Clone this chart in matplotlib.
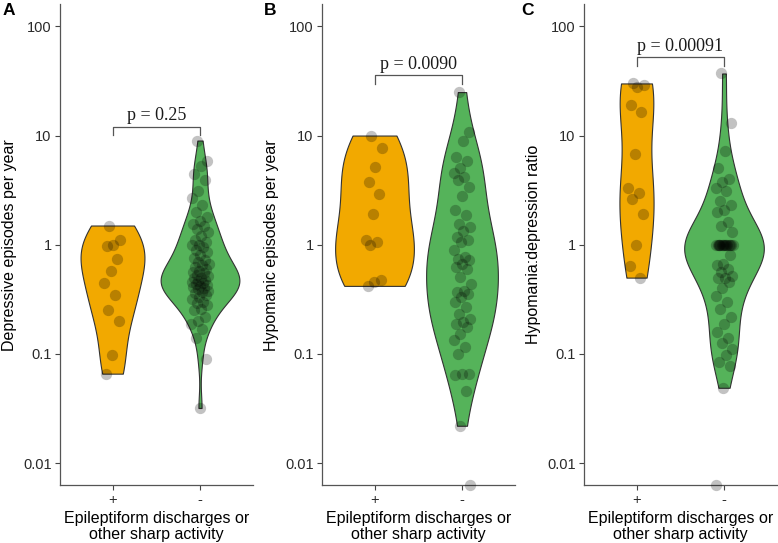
import numpy as np
import matplotlib
matplotlib.use("Agg")
import matplotlib.pyplot as plt

# data (0 = zero value, drawn at the bottom edge)
groups = ["+", "-"]

dep_pos = [1.5, 1.1, 1.0, 0.97, 0.74, 0.58, 0.45, 0.35, 0.25, 0.20, 0.097, 0.066]
dep_neg = [9.0, 5.8, 5.3, 4.4, 3.9, 3.1, 2.7, 2.3, 2.0, 1.8, 1.65, 1.55, 1.5, 1.4,
           1.3, 1.2, 1.1, 1.05, 1.0, 1.0, 0.95, 0.9, 0.85, 0.8, 0.75, 0.72, 0.7,
           0.67, 0.65, 0.62, 0.6, 0.58, 0.56, 0.55, 0.53, 0.52, 0.5, 0.5, 0.48,
           0.47, 0.46, 0.45, 0.44, 0.43, 0.42, 0.41, 0.4, 0.39, 0.38, 0.37, 0.36,
           0.35, 0.33, 0.32, 0.3, 0.29, 0.28, 0.26, 0.25, 0.22, 0.2, 0.19, 0.17,
           0.14, 0.09, 0.032]

hypo_pos = [10, 7.7, 5.2, 3.75, 2.9, 1.9, 1.1, 1.05, 1.0, 0.48, 0.46, 0.42]
hypo_neg = [25, 10.8, 9.0, 6.3, 5.9, 5.0, 4.5, 4.2, 3.9, 3.4, 2.8, 2.06, 1.86,
            1.56, 1.45, 1.35, 1.17, 1.1, 1.05, 0.89, 0.77, 0.74, 0.72, 0.67, 0.62,
            0.6, 0.51, 0.44, 0.38, 0.37, 0.355, 0.33, 0.3, 0.27, 0.23, 0.21, 0.196,
            0.19, 0.176, 0.153, 0.133, 0.115, 0.1, 0.066, 0.065, 0.064, 0.046,
            0.022, 0.0]

ratio_pos = [30, 29, 28, 19, 16.5, 6.8, 3.3, 3.0, 2.6, 1.9, 1.0, 0.64, 0.5]
ratio_neg = [37, 13, 7.2, 5.0, 4.0, 3.75, 3.3, 3.1, 2.5, 2.3, 2.06, 2.0, 1.61, 1.5,
             1.3, 1.0, 1.0, 1.0, 1.0, 1.0, 1.0, 1.0, 1.0, 1.0, 1.0, 1.0, 1.0,
             1.0, 1.0, 1.0, 0.8, 0.67, 0.65, 0.6, 0.56, 0.52, 0.5, 0.5, 0.46,
             0.4, 0.34, 0.3, 0.26, 0.22, 0.19, 0.16, 0.14, 0.125, 0.11, 0.097,
             0.084, 0.078, 0.049, 0.0]

ylabels = ["Depressive episodes per year", "Hypomanic episodes per year",
           "Hypomania:depression ratio"]
panel_tags = ["A", "B", "C"]
p_labels = ["p = 0.25", "p = 0.0090", "p = 0.00091"]
bracket_y = [12.1, 35.5, 52.0]
yticks = [0.01, 0.1, 1, 10, 100]
ytick_labels = ["0.01", "0.1", "1", "10", "100"]

# styling
colors = ["#f2a900", "#55b35a"]
vwidths = [[0.73, 0.90], [0.90, 0.82], [0.39, 0.91]]   # max violin width per group
bw_adjust = [[1.0, 1.0], [1.0, 1.0], [1.0, 1.3]]
ylim = (10 ** -2.2, 10 ** 2.2)

plt.rcParams["font.family"] = "Liberation Sans"


def kde_log(vals, adjust=1.0):
    # gaussian kde on log10 values, bw.nrd0 like R, trimmed to data range
    x = np.log10(np.array([v for v in vals if v > 0]))
    n = len(x)
    sd = x.std(ddof=1)
    iqr = np.subtract(*np.percentile(x, [75, 25]))
    bw = adjust * 0.9 * min(sd, iqr / 1.34) * n ** -0.2
    grid = np.linspace(x.min(), x.max(), 512)
    dens = np.exp(-0.5 * ((grid[:, None] - x[None, :]) / bw) ** 2).sum(axis=1)
    return grid, dens / dens.max()


def jitter(n, width=0.1):
    k = np.arange(n)
    return width * (2 * ((k * 0.618034 + 0.31) % 1.0) - 1)


fig = plt.figure(figsize=(7.78, 5.43), dpi=100)
W, H = 778.0, 543.0
ax_left = [60, 322, 584]
tag_x = [3, 263.5, 521.5]

panels = [(dep_pos, dep_neg), (hypo_pos, hypo_neg), (ratio_pos, ratio_neg)]

for i, (pos, neg) in enumerate(panels):
    ax = fig.add_axes([ax_left[i] / W, 58 / H, 192.5 / W, 480.5 / H])
    ax.set_yscale("log")
    ax.set_ylim(*ylim)
    ax.set_xlim(0.4, 2.6)

    for j, vals in enumerate([pos, neg]):
        xc = j + 1
        grid, d = kde_log(vals, bw_adjust[i][j])
        half = d * vwidths[i][j] / 2
        ax.fill_betweenx(10 ** grid, xc - half, xc + half, facecolor=colors[j],
                         edgecolor="#333333", linewidth=0.8, zorder=2)
        yv = np.clip(np.array(vals, dtype=float), ylim[0], None)
        ax.scatter(xc + jitter(len(vals)), yv, s=66, color="black", alpha=0.24,
                   linewidths=0, zorder=3, clip_on=False)

    # significance bracket
    yb = bracket_y[i]
    ytip = yb / 10 ** 0.08
    ax.plot([1, 1, 2, 2], [ytip, yb, yb, ytip], color="#555555", lw=0.9,
            zorder=4)
    ax.text(1.5, yb * 10 ** 0.02, p_labels[i], ha="center", va="bottom",
            fontsize=13, family="Liberation Serif", color="#1a1a1a")

    ax.set_yticks(yticks)
    ax.set_yticklabels(ytick_labels)
    ax.minorticks_off()
    ax.set_xticks([1, 2])
    ax.set_xticklabels(groups)
    ax.tick_params(labelsize=10.5, colors="#444444", length=3.5, width=0.8,
                   pad=2.5)
    ax.tick_params(axis="both", labelcolor="#2a2a2a")

    for s in ["top", "right"]:
        ax.spines[s].set_visible(False)
    for s in ["left", "bottom"]:
        ax.spines[s].set_color("#555555")
        ax.spines[s].set_linewidth(0.9)

    ax.set_ylabel(ylabels[i], fontsize=11.5, labelpad=4)
    ax.set_xlabel("Epileptiform discharges or\nother sharp activity",
                  fontsize=11.5, labelpad=3, linespacing=1.0)

    fig.text(tag_x[i] / W, 1 - 3 / H, panel_tags[i], fontsize=12.5,
             fontweight="bold", ha="left", va="top")

fig.savefig("out.png", dpi=100)
